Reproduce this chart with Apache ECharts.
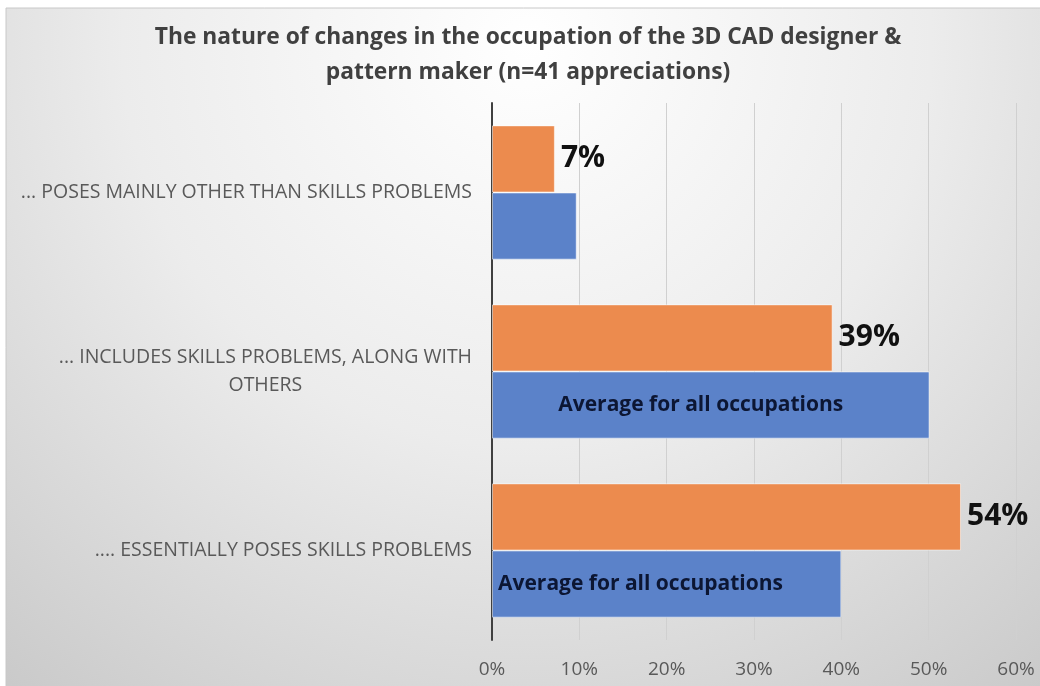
<!DOCTYPE html>
<html><head><meta charset="utf-8">
<script src="https://cdn.jsdelivr.net/npm/echarts@6/dist/echarts.min.js"></script>
<style>html,body{margin:0;padding:0;background:#fff}#c{width:1040px;height:686px}</style>
</head><body><div id="c"></div>
<script>
const titleLines = ['The nature of changes in the occupation of the 3D CAD designer &', 'pattern maker (n=41 appreciations)'];
const categories = ['... POSES MAINLY OTHER THAN SKILLS PROBLEMS', '... INCLUDES SKILLS PROBLEMS, ALONG WITH OTHERS', '.... ESSENTIALLY POSES SKILLS PROBLEMS'];
const occupationValues = [7.2, 39.0, 53.7];
const averageValues = [9.7, 50.1, 40.0];
const averageLabelText = 'Average for all occupations';
const averageLabelShown = [false, true, true];
const xTicks = [0, 10, 20, 30, 40, 50, 60];

const FONT = '"Open Sans", "DejaVu Sans", sans-serif';
const chart = echarts.init(document.getElementById('c'), null, {renderer: 'canvas'});

function wrapLabel(s, maxChars) {
  const words = s.split(' ');
  const lines = [];
  let cur = '';
  words.forEach(w => {
    const t = cur ? cur + ' ' + w : w;
    if (t.length > maxChars && cur) { lines.push(cur); cur = w; } else { cur = t; }
  });
  if (cur) lines.push(cur);
  return lines.map((l, i) => i === 0 ? l : '{c|' + l + '}').join('\n');
}

const option = {
  animation: false,
  backgroundColor: '#ffffff',
  graphic: [{
    type: 'rect', z: -100, silent: true,
    shape: {x: 6, y: 8, width: 1042, height: 690},
    style: {
      fill: {type: 'radial', x: 0.5, y: 0.05, r: 1.3, colorStops: [
        {offset: 0, color: '#ffffff'},
        {offset: 0.45, color: '#ececec'},
        {offset: 1, color: '#c4c4c4'}
      ]},
      stroke: '#c8c8c8', lineWidth: 1
    }
  }],
  title: {
    text: titleLines.join('\n'),
    left: 528, textAlign: 'center', top: 20, padding: 0,
    textStyle: {fontFamily: FONT, fontSize: 22.8, fontWeight: 'bold', color: '#404040', lineHeight: 35}
  },
  grid: {left: 492, right: 24, top: 103, bottom: 46, containLabel: false},
  xAxis: {
    type: 'value', min: xTicks[0], max: xTicks[xTicks.length - 1], interval: xTicks[1] - xTicks[0],
    axisLine: {show: false}, axisTick: {show: false},
    axisLabel: {formatter: '{value}%', color: '#595959', fontSize: 19, fontFamily: FONT, margin: 20},
    splitLine: {lineStyle: {color: '#d0d0d0', width: 1}}
  },
  yAxis: {
    type: 'category', data: categories, inverse: true,
    axisLine: {lineStyle: {color: '#404040', width: 2}}, axisTick: {show: false},
    axisLabel: {
      color: '#595959', fontSize: 19.5, fontFamily: FONT, margin: 20, lineHeight: 28,
      formatter: v => wrapLabel(v, 44),
      rich: {c: {align: 'center', color: '#595959', fontSize: 19.5, fontFamily: FONT, lineHeight: 28}}
    }
  },
  series: [{
    name: 'Occupation', type: 'bar', data: occupationValues,
    barGap: '0%', barCategoryGap: '25%',
    itemStyle: {color: '#EC8B4E', borderColor: 'rgba(255,255,255,0.5)', borderWidth: 1},
    label: {show: true, position: 'right', distance: 6, formatter: p => Math.round(p.value) + '%',
      color: '#111111', fontSize: 30, fontWeight: 'bold', fontFamily: FONT}
  }, {
    name: 'Average', type: 'bar',
    data: averageValues.map((v, i) => ({
      value: v,
      label: averageLabelShown[i] ? (i === 1 ? {show: true, position: 'inside', offset: [-10, 0]} : {show: true, position: 'insideLeft', distance: 6}) : {show: false}
    })),
    barGap: '0%', barCategoryGap: '25%',
    itemStyle: {color: '#5B82C9', borderColor: 'rgba(255,255,255,0.5)', borderWidth: 1},
    label: {formatter: averageLabelText, color: '#0c1633', fontSize: 21, fontWeight: 'bold', fontFamily: FONT}
  }]
};
chart.setOption(option);
</script>
</body></html>
